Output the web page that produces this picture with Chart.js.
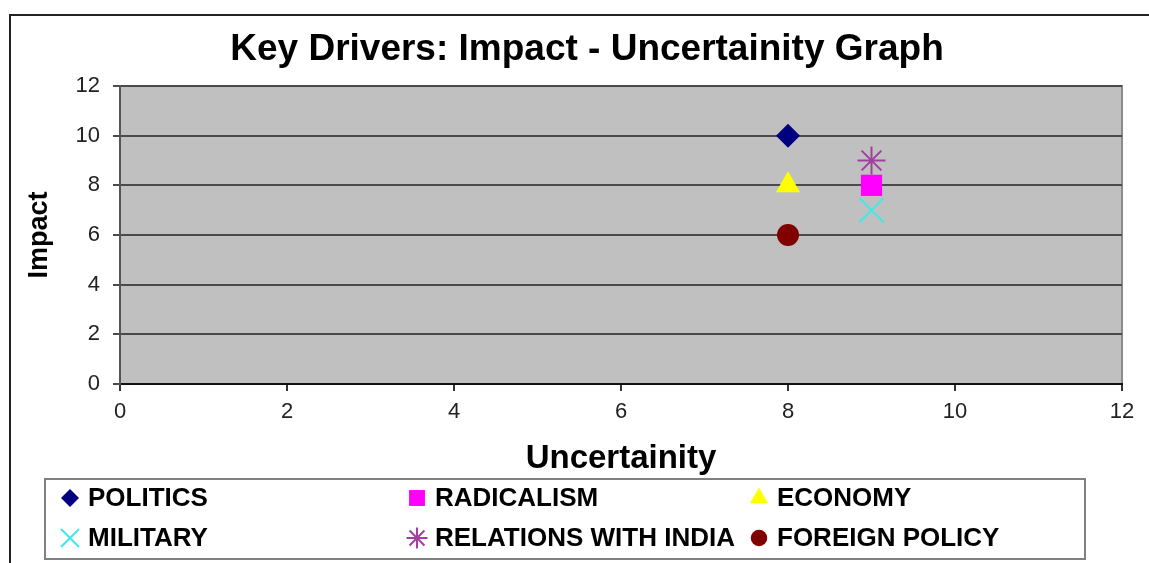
<!DOCTYPE html>
<html>
<head>
<meta charset="utf-8">
<script src="https://cdn.jsdelivr.net/npm/chart.js@4/dist/chart.umd.min.js"></script>
<style>
  html, body { margin: 0; padding: 0; background: #ffffff; }
  #wrap { width: 1149px; height: 563px; position: relative; }
</style>
</head>
<body>
<div id="wrap"><canvas id="impact-chart" width="1149" height="563"></canvas></div>
<script>
// values
var chartTitle = 'Key Drivers: Impact - Uncertainity Graph';
var seriesNames = ['POLITICS', 'RADICALISM', 'ECONOMY', 'MILITARY', 'RELATIONS WITH INDIA', 'FOREIGN POLICY'];
var uncertaintyValues = [8, 9, 8, 9, 9, 8];
var impactValues = [10, 8, 8, 7, 9, 6];
var axisMin = 0;
var axisMax = 12;
var axisStep = 2;

// marker looks, one per series
var markerStyles = ['rectRot', 'rect', 'triangle', 'crossRot', 'star', 'circle'];
var markerColors = ['#000080', '#ff00ff', '#ffff00', '#40e8e8', '#a040a0', '#800000'];
var markerSizes = [12, 15, 14, 17, 14, 11];

var fontFamily = '"Liberation Sans", Arial, sans-serif';

var datasets = [];
for (var i = 0; i < seriesNames.length; i++) {
    var stroked = markerStyles[i] === 'crossRot' || markerStyles[i] === 'star';
    datasets.push({
        label: seriesNames[i],
        data: [{x: uncertaintyValues[i], y: impactValues[i]}],
        pointStyle: markerStyles[i],
        pointRadius: markerSizes[i],
        pointHoverRadius: markerSizes[i],
        backgroundColor: markerColors[i],
        borderColor: markerColors[i],
        borderWidth: stroked ? 2 : 0,
        showLine: false
    });
}

// white page, outer frame, title and grey plot area
var framePlugin = {
    id: 'frame',
    beforeDraw: function(chart) {
        var ctx = chart.ctx;
        var a = chart.chartArea;
        ctx.save();
        ctx.fillStyle = '#ffffff';
        ctx.fillRect(0, 0, chart.width, chart.height);
        ctx.strokeStyle = '#222222';
        ctx.lineWidth = 2;
        ctx.beginPath();
        ctx.moveTo(10, chart.height + 5);
        ctx.lineTo(10, 15);
        ctx.lineTo(chart.width + 5, 15);
        ctx.stroke();
        ctx.fillStyle = '#c0c0c0';
        ctx.fillRect(a.left, a.top, a.right - a.left, a.bottom - a.top);
        ctx.strokeStyle = '#8a8a8a';
        ctx.lineWidth = 2;
        ctx.strokeRect(a.left, a.top, a.right - a.left, a.bottom - a.top);
        // title sits a bit left of the plot centre, like the original
        ctx.fillStyle = '#000000';
        ctx.font = 'bold 37px ' + fontFamily;
        ctx.textAlign = 'center';
        ctx.textBaseline = 'middle';
        ctx.fillText(chartTitle, 587, 50);
        ctx.restore();
    }
};

// boxed legend in three columns under the axis title
var boxLegendPlugin = {
    id: 'boxLegend',
    afterDraw: function(chart) {
        var ctx = chart.ctx;
        var box = {left: 45, top: 479, right: 1085, bottom: 559};
        var colX = [70, 417, 759];
        var rowY = [498, 538];
        ctx.save();
        ctx.strokeStyle = '#808080';
        ctx.lineWidth = 2;
        ctx.strokeRect(box.left, box.top, box.right - box.left, box.bottom - box.top);
        ctx.font = 'bold 26px ' + fontFamily;
        ctx.textBaseline = 'middle';
        ctx.textAlign = 'left';
        for (var i = 0; i < chart.data.datasets.length; i++) {
            var ds = chart.data.datasets[i];
            var cx = colX[i % 3];
            var cy = rowY[Math.floor(i / 3)];
            ctx.fillStyle = ds.backgroundColor;
            ctx.strokeStyle = ds.borderColor;
            ctx.lineWidth = 2;
            Chart.helpers.drawPoint(ctx, {
                pointStyle: ds.pointStyle,
                radius: ds.pointRadius * 0.75,
                rotation: 0,
                borderWidth: ds.borderWidth
            }, cx, cy);
            ctx.fillStyle = '#000000';
            ctx.fillText(ds.label, cx + 18, cy + 1);
        }
        ctx.restore();
    }
};

new Chart(document.getElementById('impact-chart'), {
    type: 'scatter',
    data: { datasets: datasets },
    plugins: [framePlugin, boxLegendPlugin],
    options: {
        responsive: false,
        animation: false,
        layout: { padding: { left: 0, right: 27, top: 86, bottom: 0 } },
        plugins: {
            legend: { display: false },
            tooltip: { enabled: false },
            title: { display: false }
        },
        scales: {
            x: {
                type: 'linear',
                min: axisMin,
                max: axisMax,
                afterFit: function(scale) { scale.height = 179; },
                ticks: {
                    stepSize: axisStep,
                    color: '#222222',
                    padding: 8,
                    font: { family: fontFamily, size: 22 }
                },
                grid: {
                    drawOnChartArea: false,
                    drawTicks: true,
                    tickLength: 7,
                    color: '#333333',
                    lineWidth: 2
                },
                border: { display: true, color: '#111111', width: 2 },
                title: {
                    display: true,
                    text: 'Uncertainity',
                    color: '#000000',
                    font: { family: fontFamily, size: 33, weight: 'bold' },
                    padding: { top: 0, bottom: 84 }
                }
            },
            y: {
                type: 'linear',
                min: axisMin,
                max: axisMax,
                afterFit: function(scale) { scale.width = 120; },
                ticks: {
                    stepSize: axisStep,
                    color: '#222222',
                    padding: 13,
                    font: { family: fontFamily, size: 22 }
                },
                grid: {
                    drawOnChartArea: true,
                    drawTicks: true,
                    tickLength: 7,
                    color: '#4a4a4a',
                    lineWidth: 2
                },
                border: { display: true, color: '#555555', width: 2 },
                title: {
                    display: true,
                    text: 'Impact',
                    color: '#000000',
                    font: { family: fontFamily, size: 27, weight: 'bold' },
                    padding: { top: 23, bottom: 0 }
                }
            }
        }
    }
});
</script>
</body>
</html>
